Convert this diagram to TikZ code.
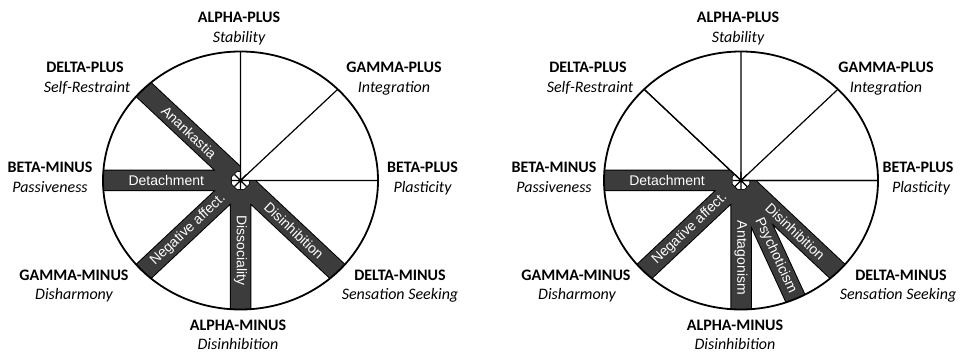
\documentclass[tikz,border=0pt]{standalone}
\usepackage{fontspec}
\setmainfont{Carlito}
\newfontfamily\barfont{Liberation Sans}
\usepackage{tikz}
\definecolor{barGrey}{RGB}{60,60,60}

\begin{document}
\begin{tikzpicture}[x=1pt, y=1pt,
  poleName/.style={anchor=base, font=\fontsize{16}{18}\selectfont\bfseries},
  poleTrait/.style={anchor=base, font=\fontsize{16}{18}\selectfont\itshape},
  barText/.style={anchor=center, text=white, inner sep=0pt, font=\barfont\fontsize{14}{16}\selectfont},
  spoke/.style={line width=1.2pt},
  rim/.style={line width=1.8pt},
  barEdge/.style={line width=21.5pt, black},
  barFill/.style={line width=19.5pt, barGrey}]
\useasboundingbox (0,0) rectangle (966,353);

\begin{scope}[shift={(240.5pt,172.5pt)}, x=137.5pt, y=129pt]
\fill[white] (0,0) circle (1);
\draw[spoke] (0,0) -- (0:1) (0,0) -- (45:1) (0,0) -- (90:1) (0,0) -- (135:1)
  (0,0) -- (180:1) (0,0) -- (225:1) (0,0) -- (270:1) (0,0) -- (315:1);
\begin{scope}
\clip (0,0) circle (1);
\clip (0,0) -- (90:2) -- (180:2) -- (270:2) -- (0:2) -- cycle;
\draw[barEdge] (0,0) -- (135:1.2) (0,0) -- (180:1.2) (0,0) -- (225:1.2) (0,0) -- (270:1.2) (0,0) -- (315:1.2);
\draw[barFill] (0,0) -- (135:1.2) (0,0) -- (180:1.2) (0,0) -- (225:1.2) (0,0) -- (270:1.2) (0,0) -- (315:1.2);
\fill[black] (22.5:9.8pt) -- (67.5:9.8pt) -- (112.5:9.8pt) -- (157.5:9.8pt) -- (202.5:9.8pt) -- (247.5:9.8pt) -- (292.5:9.8pt) -- (337.5:9.8pt) -- cycle;
\fill[white] (22.5:9pt) -- (67.5:9pt) -- (112.5:9pt) -- (157.5:9pt) -- (202.5:9pt) -- (247.5:9pt) -- (292.5:9pt) -- (337.5:9pt) -- cycle;
\end{scope}
\draw[spoke] (0,0) -- (90:1) (0,0) -- (0:1);
\draw[spoke] (0,0) -- (0:8.5pt) (0,0) -- (45:8.5pt) (0,0) -- (90:8.5pt) (0,0) -- (135:8.5pt)
  (0,0) -- (180:8.5pt) (0,0) -- (225:8.5pt) (0,0) -- (270:8.5pt) (0,0) -- (315:8.5pt);
\draw[rim] (0,0) circle (1);
\node[barText, rotate=-43.2] (lAnank) at (135:0.53) {Anankastia};
\node[barText] (lDetach) at (180:0.54) {Detachment};
\node[barText, rotate=43.2] (lNegAff) at (225:0.54) {Negative affect.};
\node[barText, rotate=-90] (lDissoc) at (270:0.54) {Dissociality};
\node[barText, rotate=-43.2] (lDisinh) at (315:0.55) {Disinhibition};
\end{scope}

\begin{scope}[shift={(741pt,172.5pt)}, x=137pt, y=129pt]
\fill[white] (0,0) circle (1);
\draw[spoke] (0,0) -- (0:1) (0,0) -- (45:1) (0,0) -- (90:1) (0,0) -- (135:1)
  (0,0) -- (180:1) (0,0) -- (225:1) (0,0) -- (270:1) (0,0) -- (315:1);
\begin{scope}
\clip (0,0) circle (1);
\clip (0,0) -- (135:2) -- (180:2) -- (270:2) -- (0:2) -- cycle;
\draw[barEdge] (0,0) -- (180:1.2) (0,0) -- (225:1.2) (0,0) -- (270:1.2) (0,0) -- (293.5:1.2) (0,0) -- (315:1.2);
\draw[barFill] (0,0) -- (180:1.2) (0,0) -- (225:1.2) (0,0) -- (270:1.2) (0,0) -- (293.5:1.2) (0,0) -- (315:1.2);
\fill[black] (22.5:9.8pt) -- (67.5:9.8pt) -- (112.5:9.8pt) -- (157.5:9.8pt) -- (202.5:9.8pt) -- (247.5:9.8pt) -- (292.5:9.8pt) -- (337.5:9.8pt) -- cycle;
\fill[white] (22.5:9pt) -- (67.5:9pt) -- (112.5:9pt) -- (157.5:9pt) -- (202.5:9pt) -- (247.5:9pt) -- (292.5:9pt) -- (337.5:9pt) -- cycle;
\end{scope}
\draw[spoke] (0,0) -- (135:1) (0,0) -- (0:1);
\draw[spoke] (0,0) -- (0:8.5pt) (0,0) -- (45:8.5pt) (0,0) -- (90:8.5pt) (0,0) -- (135:8.5pt)
  (0,0) -- (180:8.5pt) (0,0) -- (225:8.5pt) (0,0) -- (270:8.5pt) (0,0) -- (315:8.5pt);
\draw[rim] (0,0) circle (1);
\node[barText] (rDetach) at (180:0.54) {Detachment};
\node[barText, rotate=43.2] (rNegAff) at (225:0.53) {Negative affect.};
\node[barText, rotate=-90] (rAntag) at (270:0.6) {Antagonism};
\node[barText, rotate=-65.1] (rPsych) at (293.5:0.635) {Psychoticism};
\node[barText, rotate=-43.2] (rDisinh) at (315:0.56) {Disinhibition};
\end{scope}

\node[poleName] (lAlphaP) at (239,330) {ALPHA-PLUS};
\node[poleTrait] (lStab) at (239,310.5) {Stability};
\node[poleName] (lDeltaP) at (85,280.5) {DELTA-PLUS};
\node[poleTrait] (lSelf) at (87,260.5) {Self-Restraint};
\node[poleName] (lGammaP) at (394,280.5) {GAMMA-PLUS};
\node[poleTrait] (lInteg) at (394,260.5) {Integration};
\node[poleName] (lBetaM) at (50,180.3) {BETA-MINUS};
\node[poleTrait] (lPass) at (50,160.7) {Passiveness};
\node[poleName] (lBetaP) at (422.5,180.3) {BETA-PLUS};
\node[poleTrait] (lPlast) at (422.5,160.7) {Plasticity};
\node[poleName] (lGammaM) at (74,72) {GAMMA-MINUS};
\node[poleTrait] (lDisharm) at (74,53) {Disharmony};
\node[poleName] (lDeltaM) at (400,72) {DELTA-MINUS};
\node[poleTrait] (lSens) at (400,53) {Sensation Seeking};
\node[poleName] (lAlphaM) at (238,22) {ALPHA-MINUS};
\node[poleTrait] (lDisinhP) at (238,3.7) {Disinhibition};

\node[poleName] (rAlphaP) at (738,330) {ALPHA-PLUS};
\node[poleTrait] (rStab) at (738,310.5) {Stability};
\node[poleName] (rDeltaP) at (588,280.5) {DELTA-PLUS};
\node[poleTrait] (rSelf) at (590,260.5) {Self-Restraint};
\node[poleName] (rGammaP) at (886,280.5) {GAMMA-PLUS};
\node[poleTrait] (rInteg) at (886,260.5) {Integration};
\node[poleName] (rBetaM) at (554,180.3) {BETA-MINUS};
\node[poleTrait] (rPass) at (554,160.7) {Passiveness};
\node[poleName] (rBetaP) at (918,180.3) {BETA-PLUS};
\node[poleTrait] (rPlast) at (921,160.7) {Plasticity};
\node[poleName] (rGammaM) at (576,72) {GAMMA-MINUS};
\node[poleTrait] (rDisharm) at (577,53) {Disharmony};
\node[poleName] (rDeltaM) at (901,72) {DELTA-MINUS};
\node[poleTrait] (rSens) at (898,53) {Sensation Seeking};
\node[poleName] (rAlphaM) at (735,22) {ALPHA-MINUS};
\node[poleTrait] (rDisinhP) at (735,3.7) {Disinhibition};
\end{tikzpicture}
\end{document}
